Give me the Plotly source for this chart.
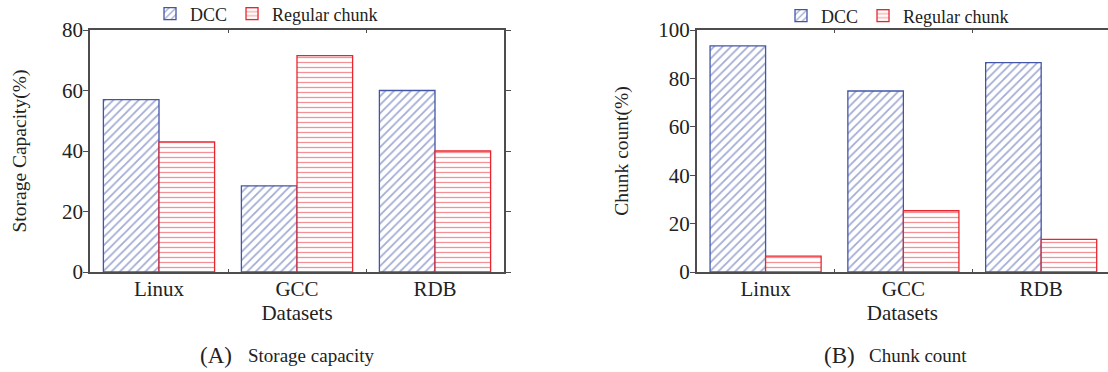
import plotly.graph_objects as go

datasets = ["Linux", "GCC", "RDB"]
storage_dcc = [57.0, 28.5, 60.0]
storage_regular = [43.0, 71.5, 40.0]
count_dcc = [93.4, 74.8, 86.5]
count_regular = [6.6, 25.3, 13.5]
series_names = ["DCC", "Regular chunk"]
y_ticks_a = [0, 20, 40, 60, 80]
y_ticks_b = [0, 20, 40, 60, 80, 100]

BLUE = "#4355a8"
RED = "#e8262e"
AXIS = "#4d4d4d"
FONT = "Liberation Serif, Times New Roman, Times, serif"

W, H = 1108, 372
TOP, BOTTOM = 30, 271.7

def fx(p):
    return p / W

def fy_container(p):
    return 1 - p / H

def fy_paper(p):
    return (BOTTOM - p) / (BOTTOM - TOP)

fig = go.Figure()

def add_pair(dcc, reg, xa, ya, leg):
    fig.add_trace(go.Bar(
        x=datasets, y=dcc, name=series_names[0], xaxis=xa, yaxis=ya, legend=leg,
        marker=dict(color="white", line=dict(color=BLUE, width=1.3),
                    pattern=dict(shape="/", fgcolor=BLUE, bgcolor="white", size=6, solidity=0.28)),
    ))
    fig.add_trace(go.Bar(
        x=datasets, y=reg, name=series_names[1], xaxis=xa, yaxis=ya, legend=leg,
        marker=dict(color="white", line=dict(color=RED, width=1.3),
                    pattern=dict(shape="-", fgcolor=RED, bgcolor="white", size=5, solidity=0.26)),
    ))

add_pair(storage_dcc, storage_regular, "x", "y", "legend")
add_pair(count_dcc, count_regular, "x2", "y2", "legend2")

tickfont = dict(family=FONT, size=21, color="#222")

xcommon = dict(
    type="category", showline=True, linecolor=AXIS, linewidth=1.5,
    ticks="inside", tickson="boundaries", ticklen=3, tickcolor=AXIS,
    tickfont=tickfont, ticklabelstandoff=-3,
    showgrid=False, zeroline=False, automargin=False,
)
ycommon = dict(
    showline=True, linecolor=AXIS, linewidth=1.5, ticks="outside", ticklen=5,
    tickcolor=AXIS, tickfont=tickfont, ticklabelstandoff=-4,
    showgrid=False, zeroline=False, automargin=False,
)

fig.update_layout(
    width=W, height=H, autosize=False,
    margin=dict(l=0, r=0, t=TOP, b=H - BOTTOM, pad=0, autoexpand=False),
    paper_bgcolor="white", plot_bgcolor="white",
    barmode="group", bargap=0.194, bargroupgap=0,
    font=dict(family=FONT, color="#222"),
    xaxis=dict(**xcommon, domain=[fx(90), fx(504)], range=[-0.5, 2.5], anchor="y",
               mirror="ticks",
               title=dict(text="Datasets", font=dict(family=FONT, size=21, color="#222"), standoff=4)),
    yaxis=dict(**ycommon, domain=[0, 1], range=[0, 80], tickvals=y_ticks_a, anchor="x",
               mirror="ticks",
               title=dict(text="Storage Capacity(%)", font=dict(family=FONT, size=19.5, color="#222"), standoff=30)),
    xaxis2=dict(**xcommon, domain=[fx(696.7), 1.0], range=[-0.5, 2.485], anchor="y2",
                mirror="ticks",
                title=dict(text="Datasets", font=dict(family=FONT, size=21, color="#222"), standoff=4)),
    yaxis2=dict(**ycommon, domain=[0, 1], range=[0, 100], tickvals=y_ticks_b, anchor="x2",
                mirror=False,
                title=dict(text="Chunk count(%)", font=dict(family=FONT, size=19.5, color="#222"), standoff=24)),
    legend=dict(orientation="h", xref="container", yref="container",
                x=fx(150), xanchor="left", y=fy_container(14), yanchor="middle",
                font=dict(family=FONT, size=18, color="#222"), bgcolor="rgba(0,0,0,0)",
                itemclick=False, itemdoubleclick=False),
    legend2=dict(orientation="h", xref="container", yref="container",
                 x=fx(781), xanchor="left", y=fy_container(16), yanchor="middle",
                 font=dict(family=FONT, size=18, color="#222"), bgcolor="rgba(0,0,0,0)",
                 itemclick=False, itemdoubleclick=False),
    showlegend=True,
)

captions = [
    ("(A)", 198, 23), ("Storage capacity", 246, 19),
    ("(B)", 822, 23), ("Chunk count", 867, 19),
]
for text, xp, size in captions:
    fig.add_annotation(text=text, xref="paper", yref="paper", x=fx(xp), y=fy_paper(355),
                       xanchor="left", yanchor="middle", showarrow=False,
                       font=dict(family=FONT, size=size, color="#222"))

# remove the default 8px page margin so the figure fills the window exactly
fig.write_html("out.html", config={"displayModeBar": False},
               post_script="document.body.style.margin='0';")
